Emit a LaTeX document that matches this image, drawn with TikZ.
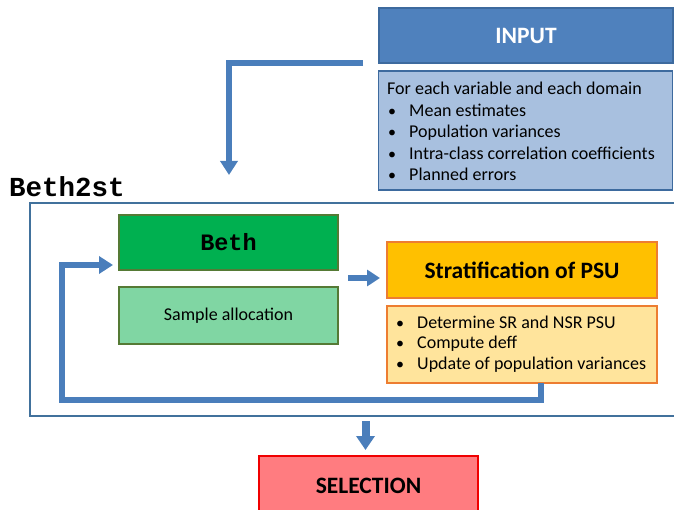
\documentclass[tikz,border=0pt]{standalone}
\usepackage{fontspec}
\setmainfont{Carlito}
\newfontfamily\codefont{Liberation Mono}
\usetikzlibrary{arrows.meta}

\definecolor{flowblue}{HTML}{4A7EBB}
\definecolor{inblue}{HTML}{4F81BD}
\definecolor{inblueline}{HTML}{3D6A9E}
\definecolor{inlight}{HTML}{A8C0DF}
\definecolor{frameblue}{HTML}{41719C}
\definecolor{bethgreen}{HTML}{00B050}
\definecolor{greenline}{HTML}{557A35}
\definecolor{samplegreen}{HTML}{80D6A3}
\definecolor{stratfill}{HTML}{FFC000}
\definecolor{stratline}{HTML}{ED7D31}
\definecolor{stratlight}{HTML}{FFE49C}
\definecolor{selfill}{HTML}{FF7C80}
\definecolor{selline}{HTML}{F00000}

\tikzset{
  box/.style={draw, line width=1.5pt, inner sep=0pt},
  headfont/.style={font=\fontsize{23.5}{26}\selectfont\bfseries},
  flow/.style={draw=flowblue, line width=5.5pt,
    -{Triangle[width=17pt,length=14pt]}},
  listline/.style={anchor=base west, inner sep=0pt,
    font=\fontsize{18}{21}\selectfont},
  bulletmark/.style={anchor=base west, inner sep=0pt,
    font=\fontsize{16}{21}\selectfont},
}

\begin{document}
\begin{tikzpicture}[x=1pt, y=-1pt]
\useasboundingbox (0,0) rectangle (674,510);

% input block
\node[box, draw=inblueline, fill=inblue, minimum width=294pt, minimum height=55pt,
  text=white, headfont] (input) at (526,35.5) {INPUT};
\node[box, draw=inblueline, fill=inlight, minimum width=294pt, minimum height=119pt] (inlist) at (525.5,130.5) {};
\node[listline] (inhead) at (387,95) {For each variable and each domain};
\foreach \txt [count=\i] in {Mean estimates, Population variances,
    Intra-class correlation coefficients, Planned errors} {
  \node[bulletmark] (inb\i) at (388,95+21.5*\i) {\textbullet};
  \node[listline] (inl\i) at (409,95+21.5*\i) {\txt};
}

% Beth2st frame (its right side runs past the page edge)
\node[anchor=base west, inner sep=0pt, font=\fontsize{27.5}{30}\selectfont\codefont\bfseries] (frametitle) at (9,197) {Beth2st};
\node[draw=frameblue, line width=1.6pt, minimum width=660pt, minimum height=213pt, inner sep=0pt] (frame) at (360,309.5) {};

% Beth
\node[box, draw=greenline, fill=bethgreen, minimum width=219pt, minimum height=55pt,
  font=\fontsize{23.5}{26}\selectfont\codefont\bfseries] (beth) at (228.5,242.5) {Beth};
\node[box, draw=greenline, fill=samplegreen, minimum width=219pt, minimum height=57pt,
  font=\fontsize{18}{21}\selectfont] (sample) at (228.5,315.5) {Sample allocation};

% stratification
\node[box, draw=stratline, fill=stratfill, minimum width=270pt, minimum height=56pt,
  headfont] (strat) at (522,270) {Stratification of PSU};
\node[box, draw=stratline, fill=stratlight, minimum width=270pt, minimum height=77pt] (stratlist) at (522,344.5) {};
\foreach \txt [count=\i] in {Determine SR and NSR PSU, Compute deff,
    Update of population variances} {
  \node[bulletmark] (sb\i) at (396,307.5+20.5*\i) {\textbullet};
  \node[listline] (sl\i) at (417,307.5+20.5*\i) {\txt};
}

% selection
\node[box, draw=selline, fill=selfill, minimum width=219pt, minimum height=60pt,
  headfont] (select) at (368.5,486) {SELECTION};

% connectors
\coordinate (instart) at (363,63);
\coordinate (incorner) at (229,63);
\coordinate (inend) at (229,175);
\draw[flow] (instart) -- (incorner) -- (inend);

\coordinate (fbstart) at (541,383);
\coordinate (fbcorner) at (541,400);
\coordinate (fbleft) at (62,400);
\coordinate (fbtop) at (62,265);
\coordinate (fbend) at (113,265);
\draw[flow] (fbstart) -- (fbcorner) -- (fbleft) -- (fbtop) -- (fbend);

\coordinate (midstart) at (348,278);
\coordinate (midend) at (380,278);
\draw[flow, line width=6pt, -{Triangle[width=16pt,length=13pt]}] (midstart) -- (midend);

\coordinate (downstart) at (365.5,421);
\coordinate (downend) at (365.5,450);
\draw[flow, line width=8pt, -{Triangle[width=18pt,length=14pt]}] (downstart) -- (downend);
\end{tikzpicture}
\end{document}
